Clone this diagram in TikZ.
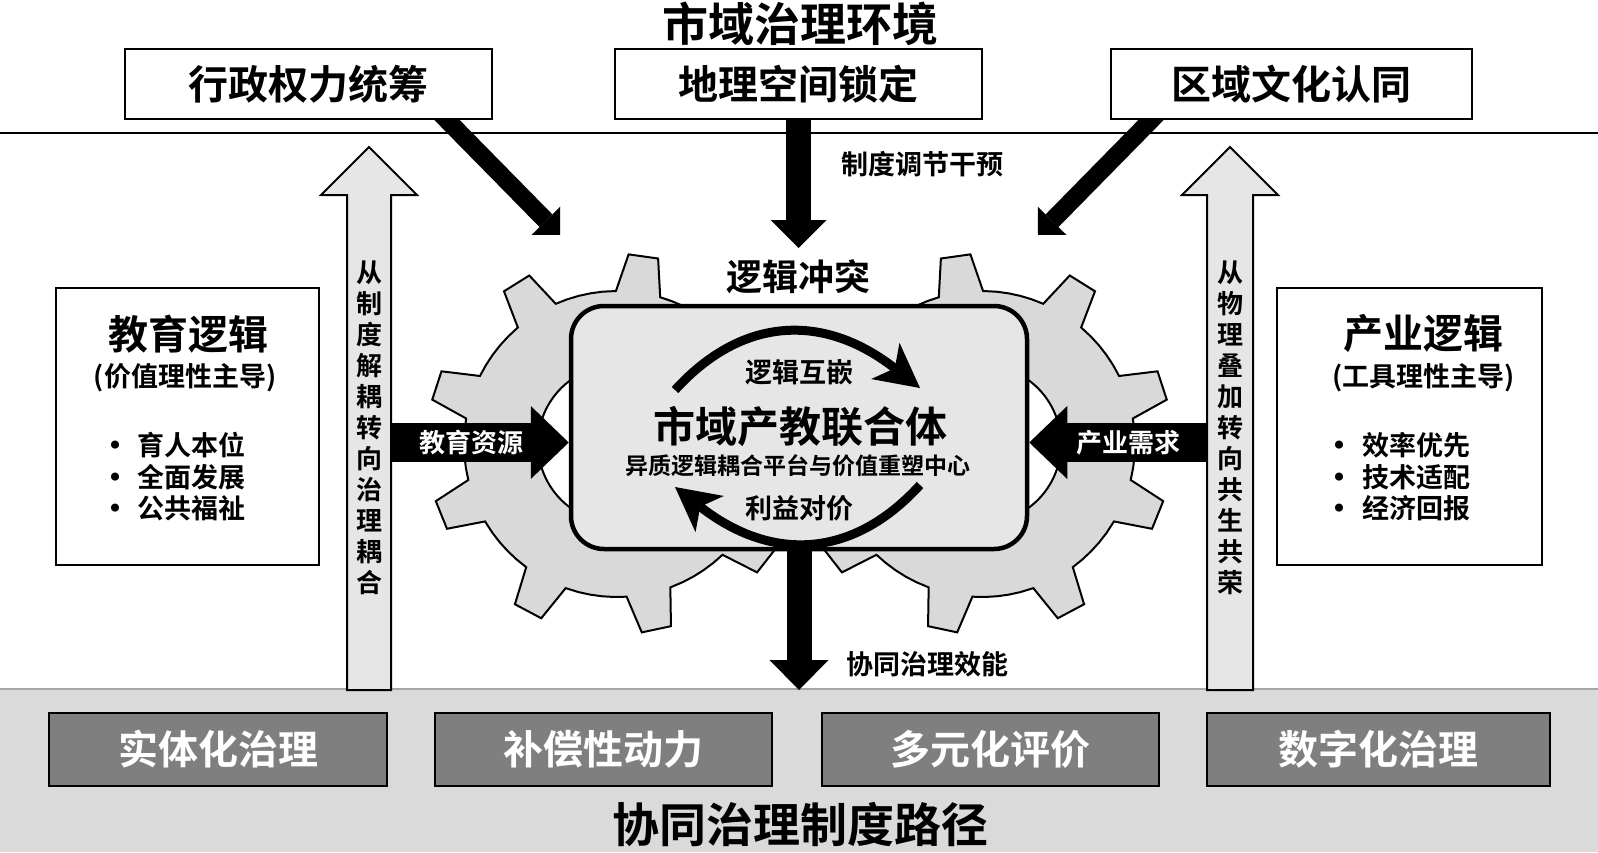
\documentclass[tikz,border=0pt]{standalone}
\usepackage{fontspec}
\setmainfont{Noto Sans CJK SC Bold}
\usetikzlibrary{arrows.meta}
\pgfdeclarelayer{back}
\pgfdeclarelayer{mid}
\pgfsetlayers{back,mid,main}
\definecolor{gearfill}{HTML}{D9D9D9}
\definecolor{hubfill}{HTML}{E6E6E6}
\definecolor{upfill}{HTML}{E6E6E6}
\definecolor{bandfill}{HTML}{DADADA}
\definecolor{bandline}{HTML}{A6A6A6}
\definecolor{pathfill}{HTML}{7F7F7F}
\newcommand\fsz[1]{\fontsize{#1}{#1}\selectfont}
\newcommand\mygearoutline{%
  \path[gearshape] ({78-8.4}:153)
  \foreach \k in {0,...,8}{%
    -- ({78+40*\k-8.4}:153) -- ({78+40*\k-4.5}:190) -- ({78+40*\k+4.5}:190)
    -- ({78+40*\k+8.4}:153) -- ({78+40*\k+13}:153) -- ({78+40*\k+17.5}:153)
    -- ({78+40*\k+22}:153) -- ({78+40*\k+26.5}:153)}
  -- cycle (0,0) circle[radius=79];}
\begin{document}
\begin{tikzpicture}[x=1pt,y=-1pt,
  every node/.style={inner sep=0pt, outer sep=0pt},
  gearshape/.style={fill=gearfill, draw=black, line width=2pt, even odd rule, line join=miter},
  box/.style={draw=black, line width=2.5pt, fill=white},
  topbox/.style={box, minimum height=70pt, font=\fsz{40}},
  pathbox/.style={draw=black, line width=2.5pt, fill=pathfill, text=white, minimum height=73pt, font=\fsz{40}},
  uparrow/.style={draw=black, line width=2pt, fill=upfill, line join=miter},
  vtext/.style={align=center, font=\fontsize{26}{31}\selectfont},
  blackarrow/.style={draw=black, line cap=butt},
  arclink/.style={line width=9pt, -{Stealth[length=44pt,width=46pt,inset=12pt,line width=0pt]}},
  bul/.style={font=\fsz{9}},
  bultext/.style={anchor=west, font=\fsz{27}}
]
\useasboundingbox (0,0) rectangle (1598,852);

% ---------- background layer ----------
\begin{pgfonlayer}{back}
  \fill[bandfill] (0,689) rectangle (1598,852);
  \draw[bandline, line width=2pt] (0,689) -- (1598,689);
  \draw[black, line width=2pt] (0,133) -- (1598,133);
  \begin{scope}[shift={(617,444)}]
    \mygearoutline
  \end{scope}
  \begin{scope}[shift={(982,444)}, xscale=-1]
    \mygearoutline
  \end{scope}
\end{pgfonlayer}

% ---------- title and top boxes ----------
\node[font=\fsz{46}] (title) at (800,24) {市域治理环境};
\node[topbox, minimum width=367pt] (adm) at (308.5,84) {行政权力统筹};
\node[topbox, minimum width=367pt] (geo) at (798.5,84) {地理空间锁定};
\node[topbox, minimum width=361pt] (cul) at (1291.5,84) {区域文化认同};

% ---------- top arrows (behind boxes) ----------
\coordinate (dl) at (560,235);
\coordinate (dv) at (798.5,248);
\coordinate (dr) at (1038,235);
\begin{pgfonlayer}{mid}
  \draw[blackarrow, line width=18pt, -{Triangle[length=20pt,width=40pt,line width=0pt]}]
    ([xshift=125.7pt,yshift=12pt]adm.south) -- (dl);
  \draw[blackarrow, line width=25pt, -{Triangle[length=28pt,width=56pt,line width=0pt]}]
    ([yshift=12pt]geo.south) -- (dv);
  \draw[blackarrow, line width=18pt, -{Triangle[length=20pt,width=40pt,line width=0pt]}]
    ([xshift=-127.7pt,yshift=12pt]cul.south) -- (dr);
\end{pgfonlayer}
\node[anchor=west, font=\fsz{27}] (reg) at (841,164) {制度调节干预};
\node[font=\fsz{36}] (conf) at (798,277) {逻辑冲突};

% ---------- central hub ----------
\node[draw=black, line width=4.5pt, fill=hubfill, rounded corners=33pt,
      minimum width=456pt, minimum height=243pt, outer sep=2.25pt] (hub) at (799,427.5) {};
\coordinate (a1s) at (675,390);
\coordinate (a1e) at (920,388);
\coordinate (a2s) at (920,485);
\coordinate (a2e) at (675,487);
\draw[arclink] (a1s) .. controls (743.7,314.7) and (825.3,314) .. (a1e);
\draw[arclink] (a2s) .. controls (851.3,560.3) and (769.7,561) .. (a2e);
\node[font=\fsz{27}] (emb) at (799.5,372) {逻辑互嵌};
\node[font=\fsz{42}] (hubt) at (800,427) {市域产教联合体};
\node[font=\fsz{23}] (hubs) at (797.5,466) {异质逻辑耦合平台与价值重塑中心};
\node[font=\fsz{27}] (bal) at (799.5,508) {利益对价};

% ---------- down arrow ----------
\coordinate (dd) at (799,690);
\draw[blackarrow, line width=25pt, -{Triangle[length=30pt,width=59pt,line width=0pt]}] (hub.south) -- (dd);
\node[anchor=west, font=\fsz{27}] (eff) at (846,664) {协同治理效能};

% ---------- up arrows ----------
\draw[uparrow] (347,690) -- (347,195) -- (321,195) -- (369,147) -- (417,195) -- (391,195) -- (391,690) -- cycle;
\draw[uparrow] (1207,690) -- (1207,195) -- (1182,195) -- (1230,147) -- (1278,195) -- (1253,195) -- (1253,690) -- cycle;
\node[vtext] (vl) at (369,427.5) {从\\制\\度\\解\\耦\\转\\向\\治\\理\\耦\\合};
\node[vtext] (vr) at (1230,427.5) {从\\物\\理\\叠\\加\\转\\向\\共\\生\\共\\荣};

% ---------- horizontal arrows ----------
\coordinate (hl) at (391,442.5);
\coordinate (hr) at (1207,442.5);
\draw[blackarrow, line width=39pt, -{Triangle[length=38pt,width=73pt,line width=0pt]}] (hl) -- (hl -| hub.west);
\draw[blackarrow, line width=39pt, -{Triangle[length=38pt,width=73pt,line width=0pt]}] (hr) -- (hr -| hub.east);
\node[text=white, font=\fsz{26}] (res) at (471,442.5) {教育资源};
\node[text=white, font=\fsz{26}] (dem) at (1128,442.5) {产业需求};

% ---------- side boxes ----------
\node[box, minimum width=263pt, minimum height=277pt] (edu) at (187.5,426.5) {};
\node[font=\fsz{40}] (edut) at (188.5,334) {教育逻辑};
\node[font=\fsz{27}] (edus) at (185,378) {(价值理性主导)};
\node[bul] (eb1) at (115,445) {●};
\node[bul] (eb2) at (115,477) {●};
\node[bul] (eb3) at (115,508) {●};
\node[bultext] (e1) at (137,445) {育人本位};
\node[bultext] (e2) at (137,477) {全面发展};
\node[bultext] (e3) at (137,508) {公共福祉};

\node[box, minimum width=265pt, minimum height=277pt] (ind) at (1409.5,426.5) {};
\node[font=\fsz{40}] (indt) at (1423.5,333) {产业逻辑};
\node[font=\fsz{27}] (inds) at (1423.5,378) {(工具理性主导)};
\node[bul] (ib1) at (1339,445) {●};
\node[bul] (ib2) at (1339,477) {●};
\node[bul] (ib3) at (1339,508) {●};
\node[bultext] (i1) at (1362,445) {效率优先};
\node[bultext] (i2) at (1362,477) {技术适配};
\node[bultext] (i3) at (1362,508) {经济回报};

% ---------- bottom paths ----------
\node[pathbox, minimum width=338pt] (p1) at (218,749.5) {实体化治理};
\node[pathbox, minimum width=337pt] (p2) at (603.5,749.5) {补偿性动力};
\node[pathbox, minimum width=337pt] (p3) at (990.5,749.5) {多元化评价};
\node[pathbox, minimum width=343pt] (p4) at (1378.5,749.5) {数字化治理};
\node[font=\fsz{47}] (btitle) at (800,824) {协同治理制度路径};
\end{tikzpicture}
\end{document}
